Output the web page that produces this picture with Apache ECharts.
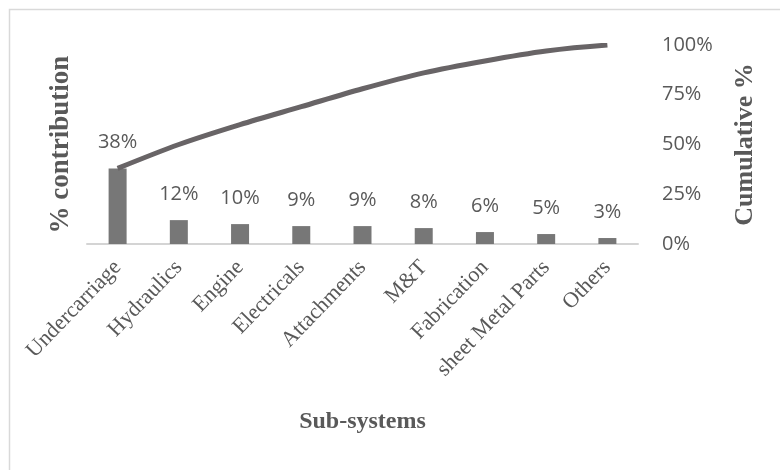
<!DOCTYPE html>
<html>
<head>
<meta charset="utf-8">
<script src="https://cdn.jsdelivr.net/npm/echarts@6/dist/echarts.min.js"></script>
<style>
  html, body { margin: 0; padding: 0; background: #ffffff; }
  #chart { width: 780px; height: 470px; }
</style>
</head>
<body>
<div id="chart"></div>
<script>
// Pareto of failure contribution by sub-system
const categories = ['Undercarriage', 'Hydraulics', 'Engine', 'Electricals', 'Attachments',
                    'M&T', 'Fabrication', 'sheet Metal Parts', 'Others'];
const contribution = [38, 12, 10, 9, 9, 8, 6, 5, 3];          // % contribution per sub-system
const cumulative = [38, 50, 60, 69, 78, 86, 92, 97, 100];     // running total, %
const rightTicks = [0, 25, 50, 75, 100];

const grey = '#595959';
const chart = echarts.init(document.getElementById('chart'), null, { renderer: 'canvas' });

chart.setOption({
  animation: false,
  backgroundColor: '#ffffff',
  graphic: [{
    type: 'rect',
    shape: { x: 9.5, y: 9.5, width: 800, height: 500 },
    style: { fill: 'none', stroke: '#d9d9d9', lineWidth: 1.5 },
    silent: true
  }],
  grid: { left: 87, right: 142, top: 45, bottom: 226 },
  xAxis: {
    type: 'category',
    data: categories,
    name: 'Sub-systems',
    nameLocation: 'middle',
    nameGap: 166,
    nameTextStyle: { fontFamily: 'Liberation Serif', fontWeight: 'bold', fontSize: 24, color: grey },
    axisLine: { lineStyle: { color: '#d4d4d4', width: 2 } },
    axisTick: { show: false },
    axisLabel: {
      interval: 0, rotate: 46, margin: 20,
      fontFamily: 'Liberation Serif', fontSize: 22, color: grey
    }
  },
  yAxis: [{
    type: 'value', min: 0, max: 100,
    name: '% contribution',
    nameLocation: 'middle',
    nameRotate: 90,
    nameGap: 12,
    nameTextStyle: { fontFamily: 'Liberation Serif', fontWeight: 'bold', fontSize: 27, color: grey },
    axisLine: { show: false }, axisTick: { show: false },
    axisLabel: { show: false }, splitLine: { show: false }
  }, {
    type: 'value', min: rightTicks[0], max: rightTicks[rightTicks.length - 1], interval: 25,
    position: 'right',
    name: 'Cumulative %',
    nameLocation: 'middle',
    nameRotate: 90,
    nameGap: 94,
    nameTextStyle: { fontFamily: 'Liberation Serif', fontWeight: 'bold', fontSize: 26, color: grey },
    axisLine: { show: false }, axisTick: { show: false }, splitLine: { show: false },
    axisLabel: {
      margin: 24, formatter: '{value}%',
      fontFamily: 'Open Sans', fontSize: 20, color: grey
    }
  }],
  series: [{
    type: 'bar',
    data: contribution,
    yAxisIndex: 0,
    barWidth: 18,
    itemStyle: { color: '#777777' },
    label: {
      show: true, position: 'top', distance: 16, formatter: '{c}%',
      fontFamily: 'Open Sans', fontSize: 20, color: grey
    },
    z: 2
  }, {
    type: 'line',
    data: cumulative,
    yAxisIndex: 1,
    smooth: 0.3,
    symbol: 'none',
    lineStyle: { color: '#686466', width: 5 },
    z: 3
  }]
});
</script>
</body>
</html>
